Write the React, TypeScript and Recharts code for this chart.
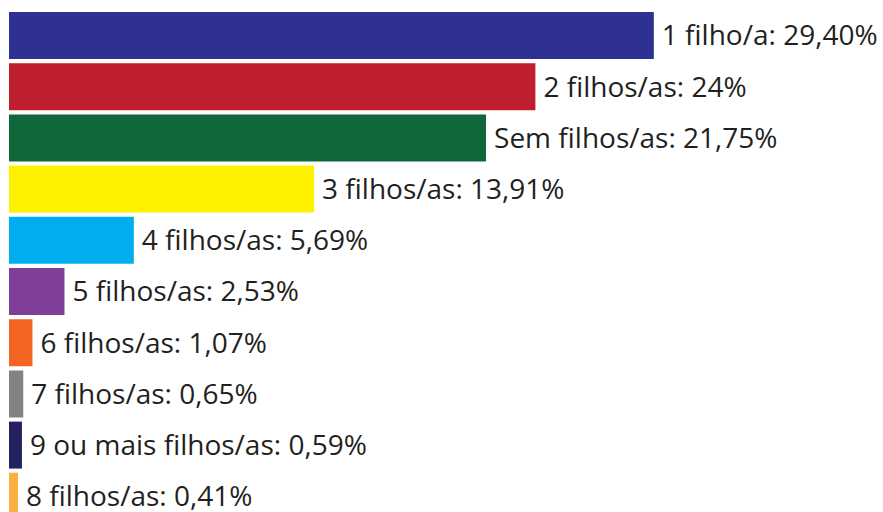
import { BarChart, Bar, XAxis, YAxis, Cell, LabelList } from "recharts";

const categories = [
  "1 filho/a",
  "2 filhos/as",
  "Sem filhos/as",
  "3 filhos/as",
  "4 filhos/as",
  "5 filhos/as",
  "6 filhos/as",
  "7 filhos/as",
  "9 ou mais filhos/as",
  "8 filhos/as",
];

const shares = [29.4, 24, 21.75, 13.91, 5.69, 2.53, 1.07, 0.65, 0.59, 0.41];

const shareLabels = [
  "29,40%",
  "24%",
  "21,75%",
  "13,91%",
  "5,69%",
  "2,53%",
  "1,07%",
  "0,65%",
  "0,59%",
  "0,41%",
];

const colors = [
  "#2e3192",
  "#be1e2d",
  "#10683a",
  "#fff200",
  "#00aeef",
  "#7f3f98",
  "#f26522",
  "#808285",
  "#262262",
  "#fbb040",
];

const data = categories.map((name, i) => ({
  name,
  value: shares[i],
  label: `${name}: ${shareLabels[i]}`,
}));

export default function App() {
  return (
    <div
      style={{
        position: "absolute",
        top: 0,
        left: 0,
        width: 883,
        height: 512,
        overflow: "hidden",
        background: "#fff",
      }}
    >
      <BarChart
        width={883}
        height={522}
        data={data}
        layout="vertical"
        margin={{ top: 10, right: 216, bottom: 0, left: 9 }}
        barCategoryGap={2}
      >
        <XAxis type="number" domain={[0, 30]} hide />
        <YAxis type="category" dataKey="name" hide />
        <Bar dataKey="value" isAnimationActive={false}>
          {data.map((d, i) => (
            <Cell key={d.name} fill={colors[i]} />
          ))}
          <LabelList
            dataKey="label"
            position="right"
            offset={8}
            fill="#231f20"
            style={{ fontFamily: "'Open Sans', sans-serif", fontSize: 28 }}
          />
        </Bar>
      </BarChart>
    </div>
  );
}
